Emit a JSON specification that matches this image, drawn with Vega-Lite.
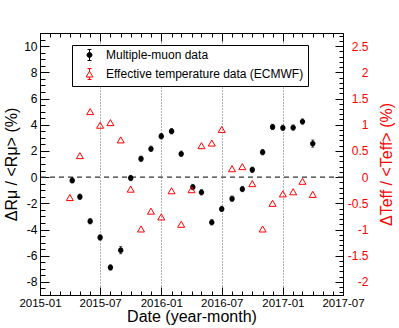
{
  "$schema": "https://vega.github.io/schema/vega-lite/v6.json",
  "width": 303,
  "height": 262,
  "autosize": {"type": "none"},
  "padding": {"left": 40, "top": 33, "right": 56, "bottom": 33},
  "background": "white",
  "datasets": {
    "mu": [
      {"date": "2015-04-08", "v": -0.25, "err": 0.2, "series": "Multiple-muon data"},
      {"date": "2015-05-01", "v": -1.50, "err": 0.2, "series": "Multiple-muon data"},
      {"date": "2015-06-01", "v": -3.37, "err": 0.2, "series": "Multiple-muon data"},
      {"date": "2015-07-01", "v": -4.61, "err": 0.2, "series": "Multiple-muon data"},
      {"date": "2015-08-01", "v": -6.90, "err": 0.2, "series": "Multiple-muon data"},
      {"date": "2015-09-01", "v": -5.58, "err": 0.27, "series": "Multiple-muon data"},
      {"date": "2015-10-01", "v": -0.07, "err": 0.2, "series": "Multiple-muon data"},
      {"date": "2015-11-01", "v": 1.40, "err": 0.2, "series": "Multiple-muon data"},
      {"date": "2015-12-01", "v": 2.16, "err": 0.2, "series": "Multiple-muon data"},
      {"date": "2016-01-01", "v": 3.12, "err": 0.2, "series": "Multiple-muon data"},
      {"date": "2016-02-01", "v": 3.50, "err": 0.2, "series": "Multiple-muon data"},
      {"date": "2016-03-01", "v": 1.78, "err": 0.2, "series": "Multiple-muon data"},
      {"date": "2016-04-05", "v": -0.76, "err": 0.2, "series": "Multiple-muon data"},
      {"date": "2016-05-01", "v": -1.16, "err": 0.2, "series": "Multiple-muon data"},
      {"date": "2016-06-01", "v": -3.45, "err": 0.2, "series": "Multiple-muon data"},
      {"date": "2016-07-01", "v": -2.43, "err": 0.2, "series": "Multiple-muon data"},
      {"date": "2016-08-01", "v": -1.65, "err": 0.2, "series": "Multiple-muon data"},
      {"date": "2016-09-01", "v": -0.91, "err": 0.2, "series": "Multiple-muon data"},
      {"date": "2016-10-01", "v": 0.56, "err": 0.2, "series": "Multiple-muon data"},
      {"date": "2016-11-01", "v": 1.90, "err": 0.2, "series": "Multiple-muon data"},
      {"date": "2016-12-01", "v": 3.83, "err": 0.2, "series": "Multiple-muon data"},
      {"date": "2017-01-01", "v": 3.76, "err": 0.2, "series": "Multiple-muon data"},
      {"date": "2017-02-01", "v": 3.78, "err": 0.2, "series": "Multiple-muon data"},
      {"date": "2017-03-01", "v": 4.24, "err": 0.2, "series": "Multiple-muon data"},
      {"date": "2017-04-01", "v": 2.56, "err": 0.27, "series": "Multiple-muon data"}
    ],
    "teff": [
      {"date": "2015-04-01", "v": -0.39, "series": "Effective temperature data (ECMWF)"},
      {"date": "2015-05-01", "v": 0.41, "series": "Effective temperature data (ECMWF)"},
      {"date": "2015-06-01", "v": 1.25, "series": "Effective temperature data (ECMWF)"},
      {"date": "2015-07-01", "v": 0.99, "series": "Effective temperature data (ECMWF)"},
      {"date": "2015-08-01", "v": 1.04, "series": "Effective temperature data (ECMWF)"},
      {"date": "2015-09-01", "v": 0.71, "series": "Effective temperature data (ECMWF)"},
      {"date": "2015-10-01", "v": -0.23, "series": "Effective temperature data (ECMWF)"},
      {"date": "2015-11-01", "v": -0.99, "series": "Effective temperature data (ECMWF)"},
      {"date": "2015-12-01", "v": -0.65, "series": "Effective temperature data (ECMWF)"},
      {"date": "2016-01-01", "v": -0.76, "series": "Effective temperature data (ECMWF)"},
      {"date": "2016-02-01", "v": -0.26, "series": "Effective temperature data (ECMWF)"},
      {"date": "2016-03-01", "v": -0.90, "series": "Effective temperature data (ECMWF)"},
      {"date": "2016-04-01", "v": -0.24, "series": "Effective temperature data (ECMWF)"},
      {"date": "2016-05-01", "v": 0.60, "series": "Effective temperature data (ECMWF)"},
      {"date": "2016-06-01", "v": 0.65, "series": "Effective temperature data (ECMWF)"},
      {"date": "2016-07-01", "v": 0.91, "series": "Effective temperature data (ECMWF)"},
      {"date": "2016-08-01", "v": 0.16, "series": "Effective temperature data (ECMWF)"},
      {"date": "2016-09-01", "v": 0.20, "series": "Effective temperature data (ECMWF)"},
      {"date": "2016-10-01", "v": -0.125, "series": "Effective temperature data (ECMWF)"},
      {"date": "2016-11-01", "v": -0.99, "series": "Effective temperature data (ECMWF)"},
      {"date": "2016-12-01", "v": -0.50, "series": "Effective temperature data (ECMWF)"},
      {"date": "2017-01-01", "v": -0.32, "series": "Effective temperature data (ECMWF)"},
      {"date": "2017-02-01", "v": -0.28, "series": "Effective temperature data (ECMWF)"},
      {"date": "2017-03-01", "v": -0.08, "series": "Effective temperature data (ECMWF)"},
      {"date": "2017-04-01", "v": -0.33, "series": "Effective temperature data (ECMWF)"}
    ]
  },
  "resolve": {
    "scale": {"y": "independent"},
    "axis": {"x": "independent", "y": "independent"}
  },
  "layer": [
    {
      "data": {"values": [{}]},
      "mark": {"type": "rule", "strokeDash": [5, 4], "color": "#333333", "strokeWidth": 1.3},
      "encoding": {
        "y": {"datum": 0, "type": "quantitative", "scale": {"domain": [-9, 11], "nice": false, "zero": false}, "axis": null}
      }
    },
    {
      "data": {"name": "mu"},
      "mark": {"type": "errorbar", "ticks": {"size": 3}, "color": "black", "thickness": 1},
      "encoding": {
        "x": {"field": "date", "type": "temporal", "scale": {"type": "utc", "domain": [{"year": 2015, "month": 1, "date": 1, "utc": true}, {"year": 2017, "month": 7, "date": 1, "utc": true}]}, "axis": null},
        "y": {"field": "v", "type": "quantitative", "scale": {"domain": [-9, 11], "nice": false, "zero": false}, "axis": null},
        "yError": {"field": "err"}
      }
    },
    {
      "data": {"name": "mu"},
      "mark": {"type": "point", "shape": "circle", "filled": true, "size": 28, "fill": "black", "strokeWidth": 0, "opacity": 1},
      "encoding": {
        "x": {"field": "date", "type": "temporal", "scale": {"type": "utc", "domain": [{"year": 2015, "month": 1, "date": 1, "utc": true}, {"year": 2017, "month": 7, "date": 1, "utc": true}]},
          "axis": {"orient": "bottom", "values": [{"year": 2015, "month": 1, "date": 1, "utc": true}, {"year": 2015, "month": 7, "date": 1, "utc": true}, {"year": 2016, "month": 1, "date": 1, "utc": true}, {"year": 2016, "month": 7, "date": 1, "utc": true}, {"year": 2017, "month": 1, "date": 1, "utc": true}, {"year": 2017, "month": 7, "date": 1, "utc": true}],
            "labelExpr": "utcFormat(datum.value, '%Y-%m')", "labelFontSize": 11.5, "tickSize": -8, "labelPadding": 10.5, "labelFlush": false, "labelOverlap": false,
            "title": "Date (year-month)", "titleX": 151.5, "titleY": 26, "titleAlign": "center", "titleBaseline": "alphabetic", "titleAngle": 0}},
        "y": {"field": "v", "type": "quantitative", "scale": {"domain": [-9, 11], "nice": false, "zero": false},
          "axis": {"orient": "left", "values": [-8, -6, -4, -2, 0, 2, 4, 6, 8, 10], "tickSize": -9, "labelPadding": 12,
            "labelExpr": "replace(datum.label, '\u2212', '-')",
            "title": "\u0394R\u03bc / <R\u03bc> (%)", "titleAngle": -90, "titleX": -24, "titleY": 131, "titleAlign": "center", "titleBaseline": "alphabetic"}}
      }
    },
    {
      "data": {"name": "teff"},
      "mark": {"type": "point", "shape": "triangle-up", "filled": false, "size": 49, "strokeWidth": 1, "color": "red", "opacity": 1},
      "encoding": {
        "x": {"field": "date", "type": "temporal", "scale": {"type": "utc", "domain": [{"year": 2015, "month": 1, "date": 1, "utc": true}, {"year": 2017, "month": 7, "date": 1, "utc": true}]}, "axis": null},
        "y": {"field": "v", "type": "quantitative", "scale": {"domain": [-2.25, 2.75], "nice": false, "zero": false},
          "axis": {"orient": "right", "values": [-2, -1.5, -1, -0.5, 0, 0.5, 1, 1.5, 2, 2.5], "tickSize": -8, "labelPadding": 33, "labelAlign": "right",
            "labelColor": "red", "labelExpr": "replace(format(datum.value, '~g'), '\u2212', '-')",
            "title": "\u0394Teff / <Teff> (%)", "titleColor": "red", "titleAngle": -90, "titleX": 48, "titleY": 131, "titleAlign": "center", "titleBaseline": "alphabetic"}}
      }
    },
    {
      "data": {"name": "teff"},
      "transform": [{"filter": "false"}],
      "mark": {"type": "point", "strokeWidth": 1, "opacity": 1},
      "encoding": {
        "x": {"field": "date", "type": "temporal", "scale": {"type": "utc", "domain": [{"year": 2015, "month": 1, "date": 1, "utc": true}, {"year": 2017, "month": 7, "date": 1, "utc": true}]}, "axis": null},
        "y": {"field": "v", "type": "quantitative", "scale": {"domain": [-2.25, 2.75], "nice": false, "zero": false}, "axis": null},
        "stroke": {"field": "series", "type": "nominal",
          "scale": {"domain": ["Multiple-muon data", "Effective temperature data (ECMWF)"], "range": ["black", "red"]},
          "legend": {"orient": "none", "legendX": 32, "legendY": 12, "title": null, "labelLimit": 400}},
        "fill": {"field": "series", "type": "nominal",
          "scale": {"domain": ["Multiple-muon data", "Effective temperature data (ECMWF)"], "range": ["black", "transparent"]},
          "legend": {"orient": "none", "legendX": 32, "legendY": 12, "title": null, "labelLimit": 400}},
        "shape": {"field": "series", "type": "nominal",
          "scale": {"domain": ["Multiple-muon data", "Effective temperature data (ECMWF)"], "range": [
            "M-0.45,0A0.45,0.45,0,1,0,0.45,0A0.45,0.45,0,1,0,-0.45,0ZM0,-1L0,1M-0.36,-1L0.36,-1M-0.36,1L0.36,1",
            "M0,-0.5L-0.62,0.55L0.62,0.55ZM0,-1L0,-0.5M0,0.55L0,1M-0.36,-1L0.36,-1M-0.36,1L0.36,1"]},
          "legend": {"orient": "none", "legendX": 32, "legendY": 12, "title": null, "labelLimit": 400}}
      }
    },
    {
      "data": {"name": "mu"},
      "mark": {"type": "point", "opacity": 0},
      "encoding": {
        "x": {"field": "date", "type": "temporal", "scale": {"type": "utc", "domain": [{"year": 2015, "month": 1, "date": 1, "utc": true}, {"year": 2017, "month": 7, "date": 1, "utc": true}]},
          "axis": {"orient": "bottom", "tickCount": {"interval": "month", "step": 1}, "tickSize": -4, "labels": false, "title": null}},
        "y": {"field": "v", "type": "quantitative", "scale": {"domain": [-9, 11], "nice": false, "zero": false},
          "axis": {"orient": "left", "values": [-9, -8.5, -8, -7.5, -7, -6.5, -6, -5.5, -5, -4.5, -4, -3.5, -3, -2.5, -2, -1.5, -1, -0.5, 0, 0.5, 1, 1.5, 2, 2.5, 3, 3.5, 4, 4.5, 5, 5.5, 6, 6.5, 7, 7.5, 8, 8.5, 9, 9.5, 10, 10.5, 11], "tickSize": -5, "labels": false, "title": null}}
      }
    },
    {
      "data": {"name": "teff"},
      "mark": {"type": "point", "opacity": 0},
      "encoding": {
        "x": {"field": "date", "type": "temporal", "scale": {"type": "utc", "domain": [{"year": 2015, "month": 1, "date": 1, "utc": true}, {"year": 2017, "month": 7, "date": 1, "utc": true}]},
          "axis": {"orient": "top", "values": [{"year": 2015, "month": 7, "date": 1, "utc": true}, {"year": 2016, "month": 1, "date": 1, "utc": true}, {"year": 2016, "month": 7, "date": 1, "utc": true}, {"year": 2017, "month": 1, "date": 1, "utc": true}], "tickSize": -8, "labels": false, "title": null}},
        "y": {"field": "v", "type": "quantitative", "scale": {"domain": [-2.25, 2.75], "nice": false, "zero": false},
          "axis": {"orient": "right", "values": [-2.2, -2.1, -2, -1.9, -1.8, -1.7, -1.6, -1.5, -1.4, -1.3, -1.2, -1.1, -1, -0.9, -0.8, -0.7, -0.6, -0.5, -0.4, -0.3, -0.2, -0.1, 0, 0.1, 0.2, 0.3, 0.4, 0.5, 0.6, 0.7, 0.8, 0.9, 1, 1.1, 1.2, 1.3, 1.4, 1.5, 1.6, 1.7, 1.8, 1.9, 2, 2.1, 2.2, 2.3, 2.4, 2.5, 2.6, 2.7], "tickSize": -4, "labels": false, "title": null}}
      }
    },
    {
      "data": {"name": "mu"},
      "mark": {"type": "point", "opacity": 0},
      "encoding": {
        "x": {"field": "date", "type": "temporal", "scale": {"type": "utc", "domain": [{"year": 2015, "month": 1, "date": 1, "utc": true}, {"year": 2017, "month": 7, "date": 1, "utc": true}]},
          "axis": {"orient": "top", "tickCount": {"interval": "month", "step": 1}, "tickSize": -4, "labels": false, "title": null}}
      }
    },
    {
      "data": {"name": "mu"},
      "mark": {"type": "point", "opacity": 0},
      "encoding": {
        "x": {"field": "date", "type": "temporal", "scale": {"type": "utc", "domain": [{"year": 2015, "month": 1, "date": 1, "utc": true}, {"year": 2017, "month": 7, "date": 1, "utc": true}]},
          "axis": {"orient": "bottom", "values": [{"year": 2015, "month": 7, "date": 1, "utc": true}, {"year": 2016, "month": 1, "date": 1, "utc": true}, {"year": 2016, "month": 7, "date": 1, "utc": true}, {"year": 2017, "month": 1, "date": 1, "utc": true}],
            "ticks": false, "labels": false, "title": null, "grid": true, "gridDash": [1, 2], "gridColor": "#666666", "gridWidth": 1, "gridOpacity": 1}}
      }
    }
  ],
  "config": {
    "font": "Liberation Sans",
    "view": {"stroke": "black", "strokeWidth": 1},
    "axis": {
      "labelFont": "Liberation Sans", "labelFontSize": 12, "labelColor": "black",
      "titleFont": "Liberation Sans", "titleFontSize": 16, "titleFontWeight": "normal", "titleColor": "black",
      "tickColor": "black", "tickWidth": 1, "domain": false, "grid": false
    },
    "legend": {
      "labelFont": "Liberation Sans", "labelFontSize": 12, "labelColor": "black",
      "strokeColor": "black", "fillColor": "white", "padding": 4,
      "symbolSize": 121, "symbolOffset": 7.5, "labelOffset": 10.5, "rowPadding": 3,
      "symbolStrokeWidth": 1
    }
  }
}
